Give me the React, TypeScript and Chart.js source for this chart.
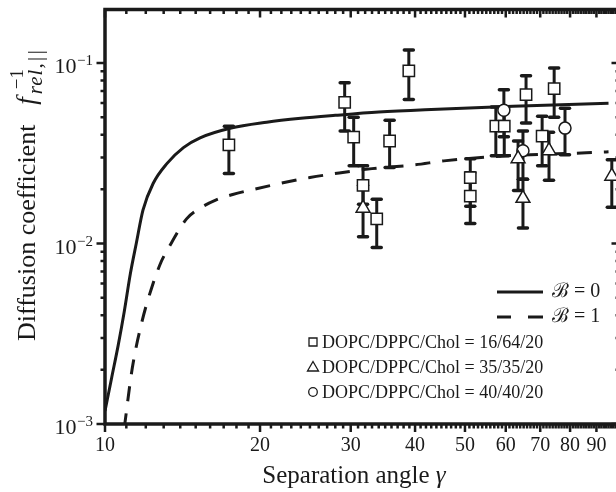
import React, { useEffect, useRef } from 'react';
import { Chart, registerables } from 'chart.js';

Chart.register(...registerables);

const FONT = "'Liberation Serif', 'Times New Roman', 'DejaVu Serif', serif";

// Theory curve, B = 0 (solid)
const curveB0X = [10.0, 10.3, 10.6, 10.9, 11.2, 11.5, 11.85, 12.4, 13.2, 14.2, 15.3, 17.5, 20.6, 24, 28, 34, 43, 62, 95];
const curveB0Y = [0.00118, 0.0018, 0.0027, 0.0042, 0.0068, 0.0100, 0.0153, 0.0215, 0.0278, 0.0340, 0.0385, 0.0435, 0.0470, 0.0494, 0.0513, 0.0535, 0.0553, 0.0576, 0.0598];

// Theory curve, B = 1 (dashed)
const curveB1X = [10.9, 11.3, 11.8, 12.3, 12.85, 13.3, 14.4, 15.3, 16.4, 17.7, 19.2, 22.0, 25.0, 28.5, 33, 40, 45.5, 60, 86, 95];
const curveB1Y = [0.00095, 0.00205, 0.0037, 0.0056, 0.0079, 0.0095, 0.0137, 0.0157, 0.0174, 0.0187, 0.0198, 0.0216, 0.0232, 0.0246, 0.0260, 0.0273, 0.0287, 0.0306, 0.0318, 0.0322];

// DOPC/DPPC/Chol = 16/64/20 (squares)
const sqX = [17.4, 29.2, 30.4, 31.7, 33.7, 35.7, 38.9, 51.2, 51.2, 57.4, 59.6, 65.7, 70.6, 74.5];
const sqY = [0.0352, 0.0605, 0.0389, 0.0210, 0.0137, 0.0370, 0.0904, 0.0232, 0.0183, 0.0447, 0.0447, 0.0668, 0.0394, 0.0721];
const sqLo = [0.0244, 0.0420, 0.0270, 0.0165, 0.0095, 0.0264, 0.0628, 0.0161, 0.0129, 0.0306, 0.0306, 0.0465, 0.0270, 0.0500];
const sqHi = [0.0447, 0.0778, 0.0500, 0.0270, 0.0176, 0.0482, 0.1180, 0.0295, 0.0247, 0.0570, 0.0570, 0.0850, 0.0507, 0.0940];

// DOPC/DPPC/Chol = 35/35/20 (triangles)
const triX = [31.7, 63.4, 64.8, 72.8, 96.4];
const triY = [0.0157, 0.0295, 0.0178, 0.0327, 0.0236];
const triLo = [0.0109, 0.0197, 0.0122, 0.0224, 0.0159];
const triHi = [0.0210, 0.0370, 0.0227, 0.0414, 0.0291];

// DOPC/DPPC/Chol = 40/40/20 (circles)
const cirX = [59.5, 64.8, 78.2];
const cirY = [0.0547, 0.0327, 0.0436];
const cirLo = [0.0390, 0.0227, 0.0310];
const cirHi = [0.0711, 0.0420, 0.0561];

const xTickValues = [10, 20, 30, 40, 50, 60, 70, 80, 90];
const yTickValues = [0.001, 0.01, 0.1];
const yTickExps = ['\u22123', '\u22122', '\u22121'];
const curveLabels = ['\u212C = 0', '\u212C = 1'];
const seriesLabels = ['DOPC/DPPC/Chol = 16/64/20', 'DOPC/DPPC/Chol = 35/35/20', 'DOPC/DPPC/Chol = 40/40/20'];
const xTitleText = 'Separation angle ';
const xTitleSymbol = '\u03B3';
const yTitleText = 'Diffusion coefficient';
const yTitleSymbol = 'f';
const yTitleSup = '\u22121';
const yTitleSub = 'rel,||';

const X_MIN = 10, X_MAX = 100, Y_MIN = 0.001, Y_MAX = 0.198;

function pts(xs: number[], ys: number[]) {
  return xs.map((x, i) => ({ x, y: ys[i] }));
}

function drawErrorBars(ctx: CanvasRenderingContext2D, sx: any, sy: any, X: number[], Lo: number[], Hi: number[]) {
  for (let i = 0; i < X.length; i++) {
    const px = sx.getPixelForValue(X[i]);
    const p1 = sy.getPixelForValue(Lo[i]);
    const p2 = sy.getPixelForValue(Hi[i]);
    ctx.lineWidth = 3;
    ctx.lineCap = 'butt';
    ctx.beginPath();
    ctx.moveTo(px, p1);
    ctx.lineTo(px, p2);
    ctx.stroke();
    ctx.lineWidth = 3.5;
    ctx.lineCap = 'round';
    for (const p of [p1, p2]) {
      ctx.beginPath();
      ctx.moveTo(px - 4.5, p);
      ctx.lineTo(px + 4.5, p);
      ctx.stroke();
    }
  }
}

const decorPlugin = {
  id: 'decor',
  beforeDatasetsDraw(chart: any) {
    const { ctx, scales } = chart;
    const sx = scales.x, sy = scales.y;
    ctx.save();
    ctx.strokeStyle = '#1a1a1a';
    drawErrorBars(ctx, sx, sy, sqX, sqLo, sqHi);
    drawErrorBars(ctx, sx, sy, triX, triLo, triHi);
    drawErrorBars(ctx, sx, sy, cirX, cirLo, cirHi);
    ctx.restore();
  },
  afterDraw(chart: any) {
    const { ctx, scales, chartArea } = chart;
    const sx = scales.x, sy = scales.y;
    const { left, right, top, bottom } = chartArea;
    ctx.save();
    ctx.strokeStyle = '#1a1a1a';
    ctx.fillStyle = '#1a1a1a';

    // frame
    ctx.lineWidth = 3.5;
    ctx.lineCap = 'square';
    ctx.beginPath();
    ctx.moveTo(left, top);
    ctx.lineTo(right, top);
    ctx.lineTo(right, bottom);
    ctx.lineTo(left, bottom);
    ctx.closePath();
    ctx.stroke();

    // x ticks: every integer
    ctx.lineCap = 'butt';
    ctx.lineWidth = 2.5;
    for (let v = X_MIN; v <= X_MAX; v++) {
      const px = sx.getPixelForValue(v);
      const major = v % 10 === 0;
      const len = major ? 8 : 4.5;
      ctx.beginPath();
      ctx.moveTo(px, bottom);
      ctx.lineTo(px, bottom + len);
      ctx.moveTo(px, top);
      ctx.lineTo(px, top + len);
      ctx.stroke();
    }
    // y ticks
    for (let e = -3; e <= -1; e++) {
      for (let m = 1; m <= 9; m++) {
        const v = m * Math.pow(10, e);
        if (v > Y_MAX) continue;
        const py = sy.getPixelForValue(v);
        const len = m === 1 ? 8.5 : 4.5;
        ctx.beginPath();
        ctx.moveTo(left, py);
        ctx.lineTo(left - len, py);
        ctx.moveTo(right, py);
        ctx.lineTo(right - len, py);
        ctx.stroke();
      }
    }

    // y tick labels 10^n
    ctx.textAlign = 'left';
    ctx.textBaseline = 'alphabetic';
    for (let i = 0; i < yTickValues.length; i++) {
      const py = sy.getPixelForValue(yTickValues[i]);
      ctx.font = `15px ${FONT}`;
      const sw = ctx.measureText(yTickExps[i]).width;
      const rightEdge = 93;
      ctx.fillText(yTickExps[i], rightEdge - sw, py + 2);
      ctx.font = `22px ${FONT}`;
      const w = ctx.measureText('10').width;
      ctx.fillText('10', rightEdge - sw - w - 0.5, py + 10);
    }

    // x title
    ctx.font = `25px ${FONT}`;
    const wA = ctx.measureText(xTitleText).width;
    ctx.font = `italic 25px ${FONT}`;
    const wB = ctx.measureText(xTitleSymbol).width;
    const cx = 354;
    const tx = cx - (wA + wB) / 2;
    ctx.font = `25px ${FONT}`;
    ctx.fillText(xTitleText, tx, 483);
    ctx.font = `italic 25px ${FONT}`;
    ctx.fillText(xTitleSymbol, tx + wA, 483);

    // y title (rotated)
    ctx.save();
    ctx.translate(35, 341);
    ctx.rotate(-Math.PI / 2);
    ctx.font = `26px ${FONT}`;
    ctx.fillText(yTitleText, 0, 0);
    const yw = ctx.measureText(yTitleText).width;
    const fx = yw + 20;
    ctx.font = `italic 27px ${FONT}`;
    ctx.fillText(yTitleSymbol, fx, 0);
    const sx0 = fx + ctx.measureText(yTitleSymbol).width + 3;
    ctx.font = `19px ${FONT}`;
    ctx.fillText(yTitleSup, sx0 + 5, -12);
    ctx.font = `italic 21px ${FONT}`;
    (ctx as any).letterSpacing = '1px';
    ctx.fillText(yTitleSub, sx0, 7);
    (ctx as any).letterSpacing = '0px';
    ctx.restore();

    // legend: curves
    ctx.lineWidth = 3;
    ctx.lineCap = 'butt';
    ctx.beginPath();
    ctx.moveTo(497, 292);
    ctx.lineTo(543, 292);
    ctx.stroke();
    ctx.beginPath();
    ctx.moveTo(497, 317);
    ctx.lineTo(511, 317);
    ctx.moveTo(528, 317);
    ctx.lineTo(543, 317);
    ctx.stroke();
    ctx.font = `20px ${FONT}`;
    ctx.textBaseline = 'middle';
    ctx.fillText(curveLabels[0], 552, 292);
    ctx.fillText(curveLabels[1], 552, 317);

    // legend: series
    ctx.font = `18px ${FONT}`;
    const rows = [342, 367, 392];
    const mx = 313;
    ctx.lineWidth = 1.3;
    for (let i = 0; i < 3; i++) {
      const y = rows[i];
      ctx.beginPath();
      if (i === 0) {
        ctx.rect(mx - 4, y - 4, 8, 8);
      } else if (i === 1) {
        ctx.moveTo(mx, y - 5.5);
        ctx.lineTo(mx + 5.5, y + 4);
        ctx.lineTo(mx - 5.5, y + 4);
        ctx.closePath();
      } else {
        ctx.arc(mx, y, 4.3, 0, Math.PI * 2);
      }
      ctx.stroke();
      ctx.fillText(seriesLabels[i], 322, y + 1);
    }
    ctx.restore();
  },
};

export default function App() {
  const ref = useRef<HTMLCanvasElement | null>(null);

  useEffect(() => {
    if (!ref.current) return;
    const markerBase = {
      type: 'scatter' as const,
      showLine: false,
      backgroundColor: '#ffffff',
      borderColor: '#1a1a1a',
      pointBorderWidth: 1.5,
      order: 1,
    };
    const chart = new Chart(ref.current, {
      type: 'scatter',
      data: {
        datasets: [
          {
            type: 'line',
            label: curveLabels[0],
            data: pts(curveB0X, curveB0Y),
            borderColor: '#1a1a1a',
            borderWidth: 3,
            pointRadius: 0,
            fill: false,
            cubicInterpolationMode: 'monotone',
            order: 2,
          } as any,
          {
            type: 'line',
            label: curveLabels[1],
            data: pts(curveB1X, curveB1Y),
            borderColor: '#1a1a1a',
            borderWidth: 3,
            borderDash: [15, 12],
            pointRadius: 0,
            fill: false,
            cubicInterpolationMode: 'monotone',
            order: 2,
          } as any,
          { ...markerBase, label: seriesLabels[0], data: pts(sqX, sqY), pointStyle: 'rect', pointRadius: 8 } as any,
          { ...markerBase, label: seriesLabels[1], data: pts(triX, triY), pointStyle: 'triangle', pointRadius: 8 } as any,
          { ...markerBase, label: seriesLabels[2], data: pts(cirX, cirY), pointStyle: 'circle', pointRadius: 6 } as any,
        ],
      },
      options: {
        responsive: false,
        animation: false,
        devicePixelRatio: 1,
        layout: { padding: { top: 4, right: 10, left: 0, bottom: 0 } },
        plugins: { legend: { display: false }, tooltip: { enabled: false } },
        scales: {
          x: {
            type: 'logarithmic',
            min: X_MIN,
            max: X_MAX,
            afterFit(s: any) { s.height = 68; },
            afterBuildTicks(s: any) { s.ticks = xTickValues.map((v) => ({ value: v })); },
            ticks: {
              autoSkip: false,
              maxRotation: 0,
              color: '#1a1a1a',
              padding: 10,
              font: { family: FONT, size: 20 },
              callback: (v: any) => String(v),
            },
            grid: { display: false, drawTicks: false },
            border: { display: false },
          },
          y: {
            type: 'logarithmic',
            min: Y_MIN,
            max: Y_MAX,
            afterFit(s: any) { s.width = 105; },
            ticks: { display: false },
            grid: { display: false, drawTicks: false },
            border: { display: false },
          },
        },
      } as any,
      plugins: [decorPlugin],
    });
    return () => chart.destroy();
  }, []);

  return (
    <div style={{ position: 'fixed', left: 0, top: 0, width: 616, height: 492, overflow: 'hidden', background: '#fff' }}>
      <canvas ref={ref} width={630} height={492} style={{ display: 'block' }} />
    </div>
  );
}
